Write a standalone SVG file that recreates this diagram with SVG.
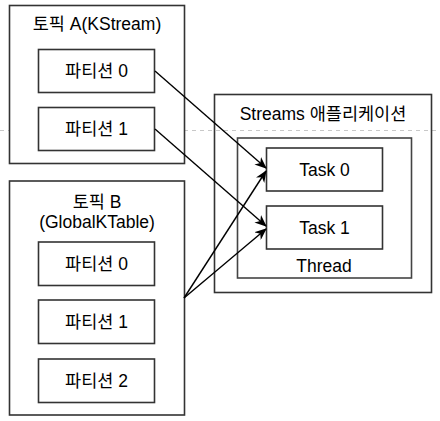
<svg xmlns="http://www.w3.org/2000/svg" width="440" height="421" viewBox="0 0 440 421">
<style>
.box{fill:#fff;stroke:#333;stroke-width:1.6}
.open{fill:none;stroke:#333;stroke-width:1.6}
.thread{fill:#fff;stroke:#444;stroke-width:1.6}
text{font-family:"Liberation Sans","Noto Sans CJK KR",Arial,sans-serif;font-size:17.5px;fill:#000;text-anchor:middle;dominant-baseline:central}
.edge{fill:none;stroke:#000;stroke-width:1.4;marker-end:url(#arr)}
</style>
<defs>
<marker id="arr" viewBox="0 0 12 10" refX="11" refY="5" markerWidth="12" markerHeight="10" markerUnits="userSpaceOnUse" orient="auto">
<path d="M0,0 L12,5 L0,10 L3.5,5 Z" fill="#000"/>
</marker>
</defs>
<line x1="0" y1="130.5" x2="440" y2="130.5" stroke="#c8c8c8" stroke-width="1" stroke-dasharray="4 4"/>
<g id="topicA">
<rect class="box" x="9.5" y="5.5" width="175" height="158"/>
<text x="97" y="24">토픽 A(KStream)</text>
</g>
<g id="a-p0">
<rect class="box" x="38.5" y="49.5" width="116" height="43"/>
<text x="96.5" y="71">파티션 0</text>
</g>
<g id="a-p1">
<rect class="box" x="38.5" y="107.5" width="116" height="43"/>
<text x="96.5" y="129">파티션 1</text>
</g>
<g id="topicB">
<rect class="box" x="9.5" y="181" width="175" height="234"/>
<text x="97" y="202">토픽 B</text>
<text x="97" y="222">(GlobalKTable)</text>
</g>
<g id="b-p0">
<rect class="box" x="38.5" y="242" width="116" height="43.5"/>
<text x="96.5" y="264">파티션 0</text>
</g>
<g id="b-p1">
<rect class="box" x="38.5" y="300" width="116" height="43.5"/>
<text x="96.5" y="322">파티션 1</text>
</g>
<g id="b-p2">
<rect class="box" x="38.5" y="359" width="116" height="43.5"/>
<text x="96.5" y="381">파티션 2</text>
</g>
<g id="streamsApp">
<rect class="open" x="214.5" y="94.5" width="217" height="198"/>
<text x="323" y="114">Streams 애플리케이션</text>
</g>
<g id="thread">
<rect class="thread" x="237.5" y="138" width="174" height="140"/>
<text x="324" y="266">Thread</text>
</g>
<g id="task0">
<rect class="box" x="266.5" y="148" width="116" height="43"/>
<text x="324.5" y="169.5">Task 0</text>
</g>
<g id="task1">
<rect class="box" x="266.5" y="206" width="116" height="43"/>
<text x="324.5" y="227.5">Task 1</text>
</g>
<g id="connectors">
<line class="edge" x1="155" y1="71" x2="266" y2="168"/>
<line class="edge" x1="155" y1="129" x2="266" y2="226"/>
<line class="edge" x1="184" y1="298" x2="266" y2="171"/>
<line class="edge" x1="184" y1="298" x2="266" y2="229"/>
</g>
</svg>
